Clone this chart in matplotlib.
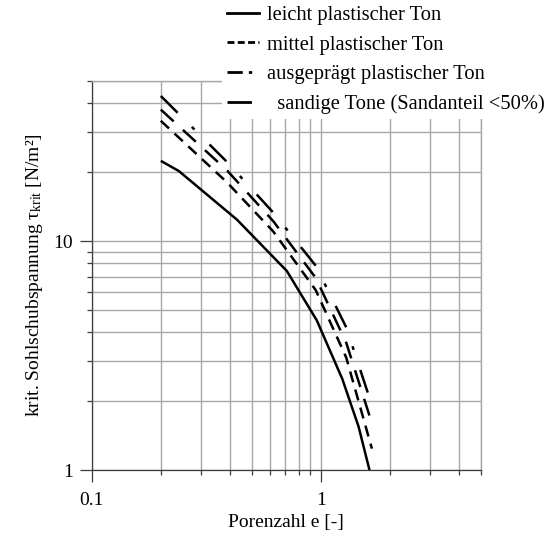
import matplotlib
matplotlib.use("Agg")
import matplotlib.pyplot as plt
from matplotlib.lines import Line2D
from matplotlib.ticker import FixedLocator, FixedFormatter, NullFormatter

plt.rcParams['font.family'] = ['Liberation Serif', 'DejaVu Serif']
plt.rcParams['mathtext.fontset'] = 'custom'
plt.rcParams['mathtext.rm'] = 'Liberation Serif'
plt.rcParams['mathtext.it'] = 'Liberation Serif:italic'

# Porenzahl e [-] und kritische Sohlschubspannung [N/m²]
e_leicht = [0.20, 0.24, 0.43, 0.71, 0.96, 1.24, 1.46, 1.63]
tau_leicht = [22.4, 20.2, 12.4, 7.4, 4.5, 2.5, 1.55, 1.0]

e_mittel = [0.20, 0.39, 0.62, 0.95, 1.29, 1.67]
tau_mittel = [33.5, 18.0, 11.0, 6.1, 3.1, 1.24]

e_ausgepraegt = [0.20, 0.39, 0.62, 0.95, 1.29, 1.67]
tau_ausgepraegt = [43.0, 22.1, 13.3, 7.8, 4.2, 1.92]

e_sandig = [0.20, 0.39, 0.62, 0.95, 1.29, 1.67]
tau_sandig = [37.5, 20.3, 12.2, 6.9, 3.6, 1.6]

labels = ["leicht plastischer Ton", "mittel plastischer Ton",
          "ausgeprägt plastischer Ton", "  sandige Tone (Sandanteil <50%)"]

x_major = [0.1, 1]
x_major_labels = ["0.1", "1"]
x_minor = [0.2, 0.3, 0.4, 0.5, 0.6, 0.7, 0.8, 0.9, 2, 3, 4, 5]
y_major = [1, 10]
y_major_labels = ["1", "10"]
y_minor = [2, 3, 4, 5, 6, 7, 8, 9, 20, 30, 40, 50]

fig = plt.figure(figsize=(5.5, 5.42), dpi=100)
ax = fig.add_axes([0.167, 0.1328, 0.7075, 0.7178])
ax.set_xscale('log')
ax.set_yscale('log')
ax.set_xlim(0.1, 5)
ax.set_ylim(1, 50)

lw = 1.8
ax.plot(e_leicht, tau_leicht, color='black', lw=lw, solid_capstyle='butt')
ax.plot(e_mittel, tau_mittel, color='black', lw=lw, dashes=(4.5, 3.0), dash_capstyle='butt')
ax.plot(e_ausgepraegt, tau_ausgepraegt, color='black', lw=lw,
        dashes=(9.5, 8.0, 1.5, 8.5), dash_capstyle='butt')
ax.plot(e_sandig, tau_sandig, color='black', lw=lw, dashes=(7.0, 5.0), dash_capstyle='butt')

ax.xaxis.set_major_locator(FixedLocator(x_major))
ax.xaxis.set_major_formatter(FixedFormatter(x_major_labels))
ax.xaxis.set_minor_locator(FixedLocator(x_minor))
ax.xaxis.set_minor_formatter(NullFormatter())
ax.yaxis.set_major_locator(FixedLocator(y_major))
ax.yaxis.set_major_formatter(FixedFormatter(y_major_labels))
ax.yaxis.set_minor_locator(FixedLocator(y_minor))
ax.yaxis.set_minor_formatter(NullFormatter())

ax.grid(which='both', color='#a8a8a8', lw=1.0)
ax.set_axisbelow(True)
tick_col = '#3c3c3c'
ax.tick_params(which='major', direction='out', length=8.5, width=0.9, color=tick_col,
               labelsize=14, pad=5)
ax.tick_params(which='minor', direction='out', length=3.5, width=0.9, color=tick_col)
ax.tick_params(axis='x', which='major', pad=7)
for side in ('left', 'bottom'):
    ax.spines[side].set_color(tick_col)
    ax.spines[side].set_linewidth(0.9)
for side in ('top', 'right'):
    ax.spines[side].set_color('#a8a8a8')
    ax.spines[side].set_linewidth(1.0)

ax.set_xlabel("Porenzahl e [-]", fontsize=14, labelpad=4)
ax.set_ylabel(r"krit. Sohlschubspannung $\mathrm{\tau_{krit}}$ [N/m²]", fontsize=14, labelpad=6)

handles = [
    Line2D([], [], color='black', lw=2.0),
    Line2D([], [], color='black', lw=2.0, dashes=(2.5, 1.2), dash_capstyle='butt'),
    Line2D([], [], color='black', lw=2.0, dashes=(5.5, 2.2, 1.2, 5.0), dash_capstyle='butt'),
    Line2D([], [], color='black', lw=2.0, dashes=(8.8, 4.0), dash_capstyle='butt'),
]
leg = fig.legend(handles, labels, loc='upper left', bbox_to_anchor=(0.404, 0.999),
                 fontsize=14.8, frameon=True, fancybox=False, borderpad=0.25,
                 handlelength=1.52, handletextpad=0.4, labelspacing=0.49,
                 borderaxespad=0.0)
leg.get_frame().set_facecolor('white')
leg.get_frame().set_edgecolor('none')
leg.get_frame().set_alpha(1.0)

fig.savefig("out.png", dpi=100)
